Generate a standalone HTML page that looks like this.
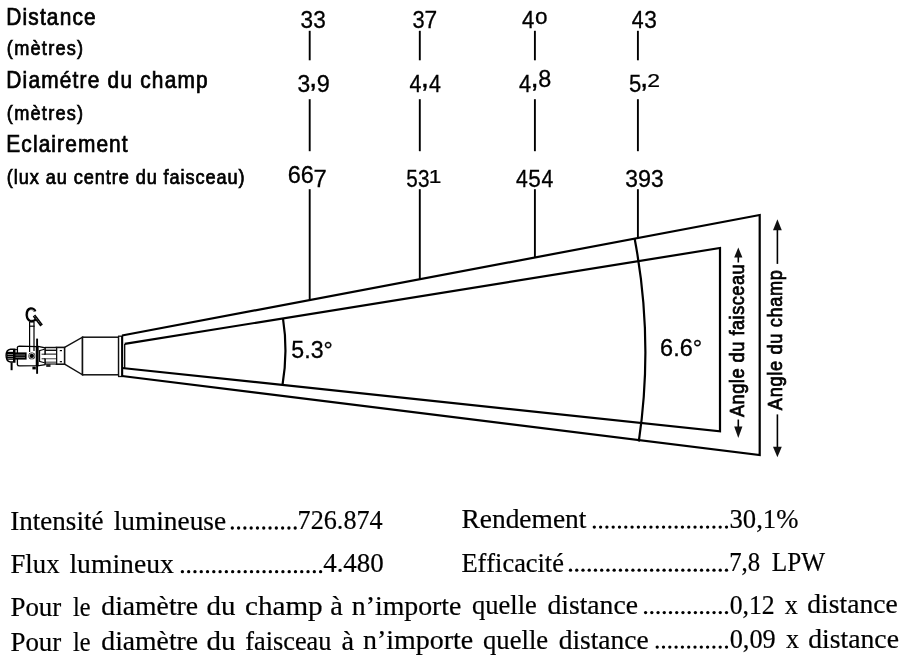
<!DOCTYPE html>
<html><head><meta charset="utf-8"><style>
html,body{margin:0;padding:0;background:#fff;}
svg{display:block;will-change:transform;}
.s{font-family:"Liberation Sans", sans-serif;fill:#000;stroke:#000;stroke-width:0.55;font-kerning:none;}
.r{font-family:"Liberation Serif", serif;fill:#000;stroke:#000;stroke-width:0.2;font-kerning:none;}
.k{stroke:#000;stroke-width:2.2;fill:none;stroke-linecap:butt;stroke-linejoin:miter;}
.t{stroke:#111;stroke-width:1.5;fill:#fff;}
</style></head><body>
<svg width="906" height="660" viewBox="0 0 906 660">
<rect width="906" height="660" fill="#fff"/>
<text class="s" transform="scale(0.9,1)" x="6.99 25.03 31.47 44.35 52.09 66.27 80.46 93.35" y="25.00" font-size="23.2" style="stroke-width:0.75px">Distance</text>
<text class="s" transform="scale(0.9,1)" x="7.64 15.73 33.92 46.51 53.49 61.58 74.17 85.64" y="55.00" font-size="20.2" style="stroke-width:0.75px">(mètres)</text>
<text class="s" transform="scale(0.9,1)" x="6.99 25.07 31.56 45.79 66.45 80.69 88.47 97.53 111.76 119.54 133.77 148.01 155.79 168.72 182.96 197.19 217.85" y="88.00" font-size="23.2" style="stroke-width:0.75px">Diamétre du champ</text>
<text class="s" transform="scale(0.9,1)" x="7.64 15.73 33.92 46.51 53.49 61.58 74.17 85.64" y="120.10" font-size="20.2" style="stroke-width:0.75px">(mètres)</text>
<text class="s" transform="scale(0.9,1)" x="6.99 23.70 36.53 42.92 57.06 63.45 72.41 86.55 107.11 121.25 135.39" y="152.00" font-size="23.2" style="stroke-width:0.75px">Eclairement</text>
<text class="s" transform="scale(0.9,1)" x="7.64 15.37 20.86 33.10 44.21 50.82 63.06 75.30 81.92 93.02 105.26 117.50 124.12 131.85 144.09 150.71 162.95 175.19 181.80 188.42 200.66 206.15 217.26 228.36 240.60 252.84 265.08" y="184.00" font-size="20.2" style="stroke-width:0.75px">(lux au centre du faisceau)</text>
<text class="s" font-size="24.0" style="stroke-width:0.3px" transform="translate(300.52,28.10) scale(0.942,1.000)">3</text>
<text class="s" font-size="24.0" style="stroke-width:0.3px" transform="translate(313.29,28.10) scale(0.942,1.000)">3</text>
<text class="s" font-size="24.0" style="stroke-width:0.3px" transform="translate(297.52,91.90) scale(0.952,1.000)">3</text>
<text class="s" x="309.30" y="87.30" font-size="28" style="stroke-width:0.5px">,</text>
<text class="s" font-size="24.0" style="stroke-width:0.3px" transform="translate(316.64,91.90) scale(0.977,1.000)">9</text>
<text class="s" font-size="24.0" style="stroke-width:0.3px" transform="translate(287.79,182.70) scale(0.980,1.000)">6</text>
<text class="s" font-size="24.0" style="stroke-width:0.3px" transform="translate(300.71,182.70) scale(0.980,1.000)">6</text>
<text class="s" font-size="24.0" style="stroke-width:0.3px" transform="translate(313.60,187.30) scale(0.994,1.000)">7</text>
<text class="s" font-size="24.0" style="stroke-width:0.3px" transform="translate(412.44,28.10) scale(0.911,1.000)">3</text>
<text class="s" font-size="24.0" style="stroke-width:0.3px" transform="translate(424.44,28.10) scale(0.950,1.000)">7</text>
<text class="s" font-size="24.0" style="stroke-width:0.3px" transform="translate(409.59,91.90) scale(0.893,1.000)">4</text>
<text class="s" x="420.96" y="87.30" font-size="28" style="stroke-width:0.5px">,</text>
<text class="s" font-size="24.0" style="stroke-width:0.3px" transform="translate(428.88,91.90) scale(0.893,1.000)">4</text>
<text class="s" font-size="24.0" style="stroke-width:0.3px" transform="translate(406.22,187.30) scale(0.861,1.000)">5</text>
<text class="s" font-size="24.0" style="stroke-width:0.3px" transform="translate(417.93,187.30) scale(0.861,1.000)">3</text>
<text class="s" font-size="24.0" style="stroke-width:0.3px" transform="translate(428.65,182.70) scale(0.947,0.742)">1</text>
<text class="s" font-size="24.0" style="stroke-width:0.3px" transform="translate(522.09,28.10) scale(0.924,1.000)">4</text>
<text class="s" font-size="24.0" style="stroke-width:0.3px" transform="translate(534.95,23.50) scale(0.939,0.958)">o</text>
<text class="s" font-size="24.0" style="stroke-width:0.3px" transform="translate(519.09,91.90) scale(0.908,1.000)">4</text>
<text class="s" x="530.67" y="87.30" font-size="28" style="stroke-width:0.5px">,</text>
<text class="s" font-size="24.0" style="stroke-width:0.3px" transform="translate(538.18,87.30) scale(0.975,1.000)">8</text>
<text class="s" font-size="24.0" style="stroke-width:0.3px" transform="translate(515.99,187.30) scale(0.885,1.000)">4</text>
<text class="s" font-size="24.0" style="stroke-width:0.3px" transform="translate(528.32,187.30) scale(0.941,1.000)">5</text>
<text class="s" font-size="24.0" style="stroke-width:0.3px" transform="translate(541.48,187.30) scale(0.885,1.000)">4</text>
<text class="s" font-size="24.0" style="stroke-width:0.3px" transform="translate(631.79,28.10) scale(0.890,1.000)">4</text>
<text class="s" font-size="24.0" style="stroke-width:0.3px" transform="translate(644.24,28.10) scale(0.946,1.000)">3</text>
<text class="s" font-size="24.0" style="stroke-width:0.3px" transform="translate(628.89,91.90) scale(0.921,1.000)">5</text>
<text class="s" x="640.28" y="87.30" font-size="28" style="stroke-width:0.5px">,</text>
<text class="s" font-size="24.0" style="stroke-width:0.3px" transform="translate(647.34,87.30) scale(0.959,0.742)">2</text>
<text class="s" font-size="24.0" style="stroke-width:0.3px" transform="translate(625.32,187.30) scale(0.951,1.000)">3</text>
<text class="s" font-size="24.0" style="stroke-width:0.3px" transform="translate(637.97,187.30) scale(0.976,1.000)">9</text>
<text class="s" font-size="24.0" style="stroke-width:0.3px" transform="translate(651.08,187.30) scale(0.951,1.000)">3</text>
<line x1="309.7" y1="30.8" x2="309.7" y2="60.3" class="k" style="stroke-width:1.9"/>
<line x1="309.7" y1="99.2" x2="309.7" y2="151.2" class="k" style="stroke-width:1.9"/>
<line x1="309.7" y1="189.2" x2="309.7" y2="300.0" class="k" style="stroke-width:1.9"/>
<line x1="419.8" y1="30.8" x2="419.8" y2="60.3" class="k" style="stroke-width:1.9"/>
<line x1="419.8" y1="99.2" x2="419.8" y2="151.2" class="k" style="stroke-width:1.9"/>
<line x1="419.8" y1="189.2" x2="419.8" y2="279.2" class="k" style="stroke-width:1.9"/>
<line x1="534.9" y1="30.8" x2="534.9" y2="60.3" class="k" style="stroke-width:1.9"/>
<line x1="534.9" y1="99.2" x2="534.9" y2="151.2" class="k" style="stroke-width:1.9"/>
<line x1="534.9" y1="189.2" x2="534.9" y2="257.5" class="k" style="stroke-width:1.9"/>
<line x1="637.9" y1="30.8" x2="637.9" y2="60.3" class="k" style="stroke-width:1.9"/>
<line x1="637.9" y1="99.2" x2="637.9" y2="151.2" class="k" style="stroke-width:1.9"/>
<line x1="637.9" y1="189.2" x2="637.9" y2="238.0" class="k" style="stroke-width:1.9"/>
<path class="k" d="M122 335.5 L759.7 215 L759.7 455 L122 376"/>
<path class="k" d="M124.7 343.9 L720 248 L720 431.3 L122 368"/>
<line class="k" x1="124.7" y1="343.9" x2="124.7" y2="368" style="stroke-width:1.3"/>
<path class="k" d="M283 318.6 Q288.2 351 282.5 385"/>
<path class="k" d="M634.7 239 Q653.8 340 638.8 441.5"/>
<text class="s" x="291.37" y="357.80" font-size="23.5" textLength="41.42" lengthAdjust="spacingAndGlyphs"  style="stroke-width:0.3px">5.3°</text>
<text class="s" x="660.11" y="355.80" font-size="23.5" textLength="42.11" lengthAdjust="spacingAndGlyphs"  style="stroke-width:0.3px">6.6°</text>
<text class="s" font-size="20.2" transform="translate(744.0,417) rotate(-90) scale(0.9,1)" x="-0.04 14.00 25.81 37.61 42.67 54.47 60.66 72.46 84.27 90.45 96.63 108.43 113.49 124.16 134.83 146.64 158.44" y="0" style="stroke-width:0.75px">Angle du faisceau</text>
<text class="s" font-size="20.2" transform="translate(781.8,410.1) rotate(-90) scale(0.9,1)" x="-0.04 14.17 26.14 38.11 43.33 55.30 61.65 73.62 85.59 91.94 102.78 114.75 126.72 144.28" y="0" style="stroke-width:0.75px">Angle du champ</text>
<line class="k" x1="738.3" y1="256.5" x2="738.3" y2="262.5" style="stroke-width:1.6"/>
<path d="M738.3 247.4 L742.4 257.5 L734.1999999999999 257.5 Z" fill="#111"/>
<line class="k" x1="738.3" y1="427.6" x2="738.3" y2="419.5" style="stroke-width:1.6"/>
<path d="M738.3 438.0 L742.4 426.6 L734.1999999999999 426.6 Z" fill="#111"/>
<line class="k" x1="777.4" y1="229.2" x2="777.4" y2="263.9" style="stroke-width:1.6"/>
<path d="M777.4 219.3 L781.8 230.2 L773.0 230.2 Z" fill="#111"/>
<line class="k" x1="777.4" y1="447.7" x2="777.4" y2="414.4" style="stroke-width:1.6"/>
<path d="M777.4 457.2 L781.8 446.7 L773.0 446.7 Z" fill="#111"/>

<g class="lamp">
<path d="M64.6 347.4 L82.5 337.2 L82.5 374.8 L64.6 364.2" class="t"/>
<rect x="82.5" y="337.2" width="36.1" height="37.6" class="t"/>
<rect x="118.6" y="336.2" width="3.4" height="40.3" class="t" style="stroke-width:1.3"/>
<line x1="122.2" y1="335.8" x2="122.2" y2="376.6" style="stroke:#000;stroke-width:2"/>
<!-- lens holder -->
<rect x="56.5" y="347.4" width="8.1" height="16.8" class="t" style="stroke-width:1.6"/>
<rect x="59.8" y="350" width="2.2" height="1.2" fill="#000"/>
<rect x="59.8" y="361.1" width="2.2" height="1.2" fill="#000"/>
<!-- tube -->
<rect x="44.8" y="346.8" width="11.8" height="17.8" fill="#111"/>
<rect x="45.6" y="348.1" width="10.4" height="1.6" fill="#ddd"/>
<rect x="45.6" y="351.0" width="10.4" height="2.6" fill="#fff"/>
<rect x="41.6" y="354.7" width="14.4" height="3.6" fill="#fff"/>
<rect x="45.6" y="359.2" width="10.4" height="2.5" fill="#fff"/>
<rect x="45.6" y="362.4" width="10.4" height="1.2" fill="#bbb"/>
<!-- gate funnel -->
<path d="M38 346.4 L45 347.8 L45 364.6 L38 365.8 Z" fill="#fff" stroke="#000" stroke-width="1.3"/>
<path d="M39 350.8 L44.6 349.2 M39 361.2 L44.6 362.8 M39.6 351 L39.6 361" stroke="#000" stroke-width="1.1" fill="none"/>
<rect x="41.8" y="354.9" width="14.2" height="3.3" fill="#fff"/>
<line x1="41.6" y1="354.2" x2="45" y2="354.2" stroke="#000" stroke-width="0.9"/>
<line x1="41.6" y1="358.8" x2="45" y2="358.8" stroke="#000" stroke-width="0.9"/>
<!-- body -->
<path d="M17.4 347.4 Q17.6 346.2 19.5 346.2 L36.4 346.6 L36.4 365.6 L19.5 365.9 Q17.6 365.9 17.4 364.6 Z" fill="#fff" stroke="#000" stroke-width="1.3"/>
<rect x="13" y="352.4" width="13.6" height="7.2" fill="#000"/>
<rect x="15" y="354.6" width="10" height="0.8" fill="#888"/>
<rect x="15" y="356.9" width="10" height="0.8" fill="#888"/>
<line x1="17.4" y1="349.6" x2="14.8" y2="349.6" stroke="#000" stroke-width="1"/>
<!-- rear cap -->
<path d="M14.8 349.2 L10.5 349.2 Q6.1 349.8 6.1 355.6 Q6.1 361.6 10.5 362 L14.8 362 Z" fill="#fff" stroke="#000" stroke-width="1.4"/>
<rect x="6.6" y="351.8" width="8.4" height="8" fill="#000"/>
<rect x="7.6" y="354.2" width="6.6" height="0.8" fill="#999"/>
<rect x="7.6" y="356.2" width="6.6" height="0.8" fill="#999"/>
<rect x="7.6" y="358.0" width="6.6" height="0.7" fill="#999"/>
<rect x="13" y="349.2" width="1.9" height="12.8" fill="#000"/>
<line x1="11.6" y1="362.5" x2="11.6" y2="370.2" style="stroke:#000;stroke-width:2"/>
<!-- stem -->
<path d="M29.6 322 L29.6 352 M34 322 L34 351" fill="none" stroke="#000" stroke-width="1.2"/><path d="M29.6 322 L34 322" stroke="#000" stroke-width="1"/>
<rect x="29" y="325.6" width="5.6" height="1.2" fill="#000"/>
<!-- pivot -->
<circle cx="31.8" cy="355.9" r="3.4" fill="#000"/>
<circle cx="31.8" cy="355.9" r="2.6" fill="none" stroke="#fff" stroke-width="0.7"/>
<!-- yoke plate -->
<line x1="37.1" y1="338.6" x2="37.1" y2="373.8" style="stroke:#000;stroke-width:1.9"/>
<rect x="32.4" y="366.6" width="3.4" height="2.8" fill="#000"/>
<rect x="46.2" y="364.1" width="4.3" height="2.8" fill="#222"/>
<!-- clamp -->
<path d="M35.2 311.4 Q34 308.4 30.6 308.6 Q26.8 309.2 26.8 315 Q27.2 320.8 31.6 321 Q34.8 320.9 36 318.6" fill="none" stroke="#000" stroke-width="2.6"/>
<path d="M34.6 311.4 Q33.4 309.6 30.8 309.8 Q28.2 310.4 28.2 315 Q28.6 319.6 31.6 319.7 Q34 319.6 35 318.2" fill="none" stroke="#fff" stroke-width="0.6"/>
<path d="M34 315.6 L41.6 325.4" stroke="#000" stroke-width="3.2"/>
<path d="M34.6 316.4 L40.9 324.4" stroke="#aaa" stroke-width="0.9" stroke-dasharray="1 1"/>
</g>

<text class="r" x="10.32" y="530.04" font-size="26.5" textLength="93.11" lengthAdjust="spacingAndGlyphs">Intensité</text>
<text class="r" x="113.65" y="529.65" font-size="26.5" textLength="112.50" lengthAdjust="spacingAndGlyphs">lumineuse</text>
<text class="r" x="297.57" y="529.07" font-size="26.5" textLength="85.14" lengthAdjust="spacingAndGlyphs">726.874</text>
<g fill="#000"><circle cx="232.30" cy="528.0" r="1.65"/><circle cx="238.59" cy="528.0" r="1.65"/><circle cx="244.88" cy="528.0" r="1.65"/><circle cx="251.17" cy="528.0" r="1.65"/><circle cx="257.46" cy="528.0" r="1.65"/><circle cx="263.75" cy="528.0" r="1.65"/><circle cx="270.04" cy="528.0" r="1.65"/><circle cx="276.33" cy="528.0" r="1.65"/><circle cx="282.62" cy="528.0" r="1.65"/><circle cx="288.91" cy="528.0" r="1.65"/><circle cx="295.20" cy="528.0" r="1.65"/></g>
<text class="r" x="461.41" y="528.44" font-size="26.5" textLength="125.05" lengthAdjust="spacingAndGlyphs">Rendement</text>
<text class="r" x="729.52" y="527.61" font-size="26.5" textLength="68.89" lengthAdjust="spacingAndGlyphs">30,1%</text>
<g fill="#000"><circle cx="594.30" cy="527.1" r="1.65"/><circle cx="600.60" cy="527.1" r="1.65"/><circle cx="606.89" cy="527.1" r="1.65"/><circle cx="613.19" cy="527.1" r="1.65"/><circle cx="619.48" cy="527.1" r="1.65"/><circle cx="625.78" cy="527.1" r="1.65"/><circle cx="632.07" cy="527.1" r="1.65"/><circle cx="638.37" cy="527.1" r="1.65"/><circle cx="644.66" cy="527.1" r="1.65"/><circle cx="650.96" cy="527.1" r="1.65"/><circle cx="657.25" cy="527.1" r="1.65"/><circle cx="663.55" cy="527.1" r="1.65"/><circle cx="669.84" cy="527.1" r="1.65"/><circle cx="676.14" cy="527.1" r="1.65"/><circle cx="682.43" cy="527.1" r="1.65"/><circle cx="688.73" cy="527.1" r="1.65"/><circle cx="695.02" cy="527.1" r="1.65"/><circle cx="701.32" cy="527.1" r="1.65"/><circle cx="707.61" cy="527.1" r="1.65"/><circle cx="713.91" cy="527.1" r="1.65"/><circle cx="720.20" cy="527.1" r="1.65"/><circle cx="726.50" cy="527.1" r="1.65"/></g>
<text class="r" x="10.53" y="573.22" font-size="26.5" textLength="49.00" lengthAdjust="spacingAndGlyphs">Flux</text>
<text class="r" x="69.45" y="572.92" font-size="26.5" textLength="104.39" lengthAdjust="spacingAndGlyphs">lumineux</text>
<text class="r" x="323.17" y="572.12" font-size="26.5" textLength="60.65" lengthAdjust="spacingAndGlyphs">4.480</text>
<g fill="#000"><circle cx="182.40" cy="571.7" r="1.65"/><circle cx="188.68" cy="571.7" r="1.65"/><circle cx="194.96" cy="571.7" r="1.65"/><circle cx="201.25" cy="571.7" r="1.65"/><circle cx="207.53" cy="571.7" r="1.65"/><circle cx="213.81" cy="571.7" r="1.65"/><circle cx="220.09" cy="571.7" r="1.65"/><circle cx="226.37" cy="571.7" r="1.65"/><circle cx="232.65" cy="571.7" r="1.65"/><circle cx="238.94" cy="571.7" r="1.65"/><circle cx="245.22" cy="571.7" r="1.65"/><circle cx="251.50" cy="571.7" r="1.65"/><circle cx="257.78" cy="571.7" r="1.65"/><circle cx="264.06" cy="571.7" r="1.65"/><circle cx="270.35" cy="571.7" r="1.65"/><circle cx="276.63" cy="571.7" r="1.65"/><circle cx="282.91" cy="571.7" r="1.65"/><circle cx="289.19" cy="571.7" r="1.65"/><circle cx="295.47" cy="571.7" r="1.65"/><circle cx="301.75" cy="571.7" r="1.65"/><circle cx="308.04" cy="571.7" r="1.65"/><circle cx="314.32" cy="571.7" r="1.65"/><circle cx="320.60" cy="571.7" r="1.65"/></g>
<text class="r" x="461.44" y="571.57" font-size="26.5" textLength="102.47" lengthAdjust="spacingAndGlyphs">Efficacité</text>
<text class="r" x="729.17" y="570.78" font-size="26.5" textLength="30.98" lengthAdjust="spacingAndGlyphs">7,8</text>
<text class="r" x="771.77" y="570.59" font-size="26.5" textLength="53.28" lengthAdjust="spacingAndGlyphs">LPW</text>
<g fill="#000"><circle cx="570.50" cy="570.2" r="1.65"/><circle cx="576.74" cy="570.2" r="1.65"/><circle cx="582.98" cy="570.2" r="1.65"/><circle cx="589.22" cy="570.2" r="1.65"/><circle cx="595.46" cy="570.2" r="1.65"/><circle cx="601.70" cy="570.2" r="1.65"/><circle cx="607.94" cy="570.2" r="1.65"/><circle cx="614.18" cy="570.2" r="1.65"/><circle cx="620.42" cy="570.2" r="1.65"/><circle cx="626.66" cy="570.2" r="1.65"/><circle cx="632.90" cy="570.2" r="1.65"/><circle cx="639.14" cy="570.2" r="1.65"/><circle cx="645.38" cy="570.2" r="1.65"/><circle cx="651.62" cy="570.2" r="1.65"/><circle cx="657.86" cy="570.2" r="1.65"/><circle cx="664.10" cy="570.2" r="1.65"/><circle cx="670.34" cy="570.2" r="1.65"/><circle cx="676.58" cy="570.2" r="1.65"/><circle cx="682.82" cy="570.2" r="1.65"/><circle cx="689.06" cy="570.2" r="1.65"/><circle cx="695.30" cy="570.2" r="1.65"/><circle cx="701.54" cy="570.2" r="1.65"/><circle cx="707.78" cy="570.2" r="1.65"/><circle cx="714.02" cy="570.2" r="1.65"/><circle cx="720.26" cy="570.2" r="1.65"/><circle cx="726.50" cy="570.2" r="1.65"/></g>
<text class="r" x="10.42" y="615.73" font-size="26.5" textLength="50.91" lengthAdjust="spacingAndGlyphs">Pour</text>
<text class="r" x="73.11" y="615.60" font-size="26.5" textLength="17.53" lengthAdjust="spacingAndGlyphs">le</text>
<text class="r" x="101.30" y="615.41" font-size="26.5" textLength="96.76" lengthAdjust="spacingAndGlyphs">diamètre</text>
<text class="r" x="206.45" y="615.21" font-size="26.5" textLength="28.94" lengthAdjust="spacingAndGlyphs">du</text>
<text class="r" x="244.99" y="615.03" font-size="26.5" textLength="77.65" lengthAdjust="spacingAndGlyphs">champ</text>
<text class="r" x="330.20" y="614.88" font-size="26.5" textLength="12.58" lengthAdjust="spacingAndGlyphs">à</text>
<text class="r" x="351.76" y="614.68" font-size="26.5" textLength="109.70" lengthAdjust="spacingAndGlyphs">n’importe</text>
<text class="r" x="472.04" y="614.41" font-size="26.5" textLength="64.88" lengthAdjust="spacingAndGlyphs">quelle</text>
<text class="r" x="547.40" y="614.16" font-size="26.5" textLength="90.56" lengthAdjust="spacingAndGlyphs">distance</text>
<text class="r" x="729.72" y="613.71" font-size="26.5" textLength="45.00" lengthAdjust="spacingAndGlyphs">0,12</text>
<text class="r" x="784.77" y="613.60" font-size="26.5" textLength="13.05" lengthAdjust="spacingAndGlyphs">x</text>
<text class="r" x="807.30" y="613.43" font-size="26.5" textLength="90.35" lengthAdjust="spacingAndGlyphs">distance</text>
<g fill="#000"><circle cx="645.60" cy="612.6" r="1.65"/><circle cx="651.82" cy="612.6" r="1.65"/><circle cx="658.05" cy="612.6" r="1.65"/><circle cx="664.27" cy="612.6" r="1.65"/><circle cx="670.49" cy="612.6" r="1.65"/><circle cx="676.72" cy="612.6" r="1.65"/><circle cx="682.94" cy="612.6" r="1.65"/><circle cx="689.16" cy="612.6" r="1.65"/><circle cx="695.38" cy="612.6" r="1.65"/><circle cx="701.61" cy="612.6" r="1.65"/><circle cx="707.83" cy="612.6" r="1.65"/><circle cx="714.05" cy="612.6" r="1.65"/><circle cx="720.28" cy="612.6" r="1.65"/><circle cx="726.50" cy="612.6" r="1.65"/></g>
<text class="r" x="10.42" y="650.71" font-size="26.5" textLength="50.91" lengthAdjust="spacingAndGlyphs">Pour</text>
<text class="r" x="73.11" y="650.54" font-size="26.5" textLength="17.53" lengthAdjust="spacingAndGlyphs">le</text>
<text class="r" x="101.30" y="650.28" font-size="26.5" textLength="96.76" lengthAdjust="spacingAndGlyphs">diamètre</text>
<text class="r" x="206.45" y="650.02" font-size="26.5" textLength="28.94" lengthAdjust="spacingAndGlyphs">du</text>
<text class="r" x="245.29" y="649.77" font-size="26.5" textLength="86.16" lengthAdjust="spacingAndGlyphs">faisceau</text>
<text class="r" x="341.40" y="649.54" font-size="26.5" textLength="12.58" lengthAdjust="spacingAndGlyphs">à</text>
<text class="r" x="362.96" y="649.28" font-size="26.5" textLength="110.21" lengthAdjust="spacingAndGlyphs">n’importe</text>
<text class="r" x="483.04" y="648.92" font-size="26.5" textLength="65.09" lengthAdjust="spacingAndGlyphs">quelle</text>
<text class="r" x="558.71" y="648.59" font-size="26.5" textLength="89.94" lengthAdjust="spacingAndGlyphs">distance</text>
<text class="r" x="729.70" y="648.04" font-size="26.5" textLength="46.08" lengthAdjust="spacingAndGlyphs">0,09</text>
<text class="r" x="786.07" y="647.89" font-size="26.5" textLength="12.94" lengthAdjust="spacingAndGlyphs">x</text>
<text class="r" x="808.20" y="647.66" font-size="26.5" textLength="90.76" lengthAdjust="spacingAndGlyphs">distance</text>
<g fill="#000"><circle cx="657.20" cy="647.1" r="1.65"/><circle cx="663.50" cy="647.1" r="1.65"/><circle cx="669.80" cy="647.1" r="1.65"/><circle cx="676.10" cy="647.1" r="1.65"/><circle cx="682.40" cy="647.1" r="1.65"/><circle cx="688.70" cy="647.1" r="1.65"/><circle cx="695.00" cy="647.1" r="1.65"/><circle cx="701.30" cy="647.1" r="1.65"/><circle cx="707.60" cy="647.1" r="1.65"/><circle cx="713.90" cy="647.1" r="1.65"/><circle cx="720.20" cy="647.1" r="1.65"/><circle cx="726.50" cy="647.1" r="1.65"/></g>
</svg>
</body></html>
